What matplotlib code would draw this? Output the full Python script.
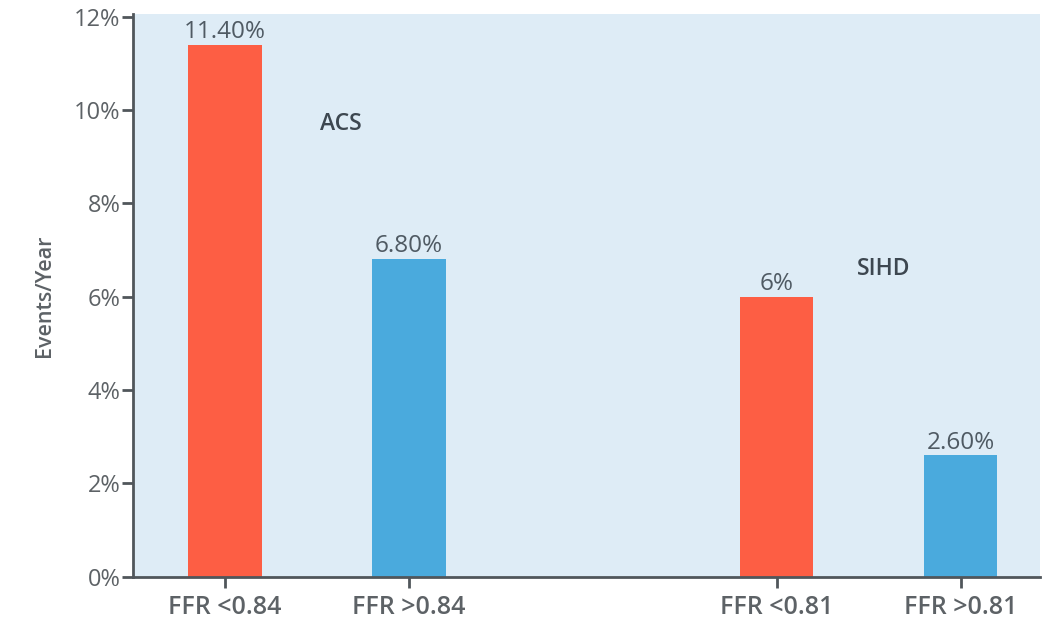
import numpy as np
import matplotlib.pyplot as plt

plt.rcParams['font.family'] = ['Open Sans', 'DejaVu Sans']

# event rates per year (%)
categories = ['FFR <0.84', 'FFR >0.84', 'FFR <0.81', 'FFR >0.81']
positions = [0, 1, 3, 4]
rates = [11.4, 6.8, 6.0, 2.6]
rate_labels = ['11.40%', '6.80%', '6%', '2.60%']
group_names = ['ACS', 'SIHD']
group_pos = [(0.63, 9.7), (3.58, 6.6)]
yticks = [0, 2, 4, 6, 8, 10, 12]

red = '#fd5e44'
blue = '#4aaadd'
colors = [red, blue, red, blue]
axis_grey = '#50565b'
text_grey = '#5d6266'

fig = plt.figure(figsize=(10.48, 6.27), dpi=100)
ax = fig.add_axes([0.127, 0.08, 0.865, 0.898])
ax.set_facecolor('#deecf6')

ax.bar(positions, rates, width=0.4, color=colors, zorder=2)

for x, v, lab in zip(positions, rates, rate_labels):
    ax.text(x, v + 0.02, lab, ha='center', va='bottom', fontsize=17.5,
            color='#4f5a63')

for name, (gx, gy) in zip(group_names, group_pos):
    ax.text(gx, gy, name, ha='center', va='center', fontsize=16.5,
            fontweight='semibold', color='#3d4750')

ax.set_xlim(-0.5, 4.43)
ax.set_ylim(0, 12.06)
ax.set_xticks(positions)
ax.set_xticklabels(categories, fontsize=18, fontweight='semibold',
                   color=text_grey)
ax.set_yticks(yticks)
ax.set_yticklabels([f'{t}%' for t in yticks], fontsize=17, color=text_grey)
ax.set_ylabel('Events/Year', fontsize=15.5, fontweight='semibold',
              color=text_grey, labelpad=14)

for side in ['top', 'right']:
    ax.spines[side].set_visible(False)
for side in ['left', 'bottom']:
    ax.spines[side].set_color(axis_grey)
    ax.spines[side].set_linewidth(2)
ax.tick_params(axis='both', colors=axis_grey, width=2, length=8,
               labelcolor=text_grey)
ax.tick_params(axis='y', pad=1)
ax.tick_params(axis='x', pad=5)

fig.savefig('out.png', dpi=100)
